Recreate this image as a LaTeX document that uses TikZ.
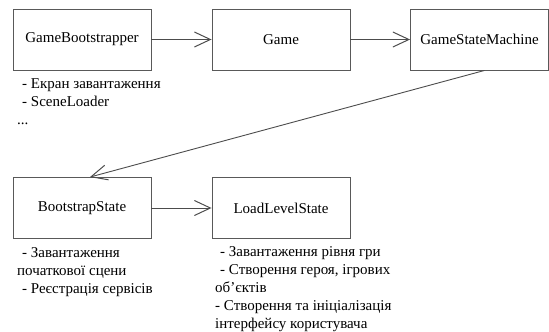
\documentclass[tikz,border=0pt]{standalone}
\usepackage{fontspec}
\setmainfont{LiberationSerif}[Extension=.ttf, UprightFont=*-Regular, BoldFont=*-Bold]
\usetikzlibrary{arrows.meta}

\begin{document}
\begin{tikzpicture}[
    x=1pt, y=-1pt,
    font=\fontsize{15}{18}\selectfont,
    box/.style={draw=black!65, line width=0.9pt, minimum width=138pt, minimum height=61pt},
    note/.style={align=left, inner sep=0pt, anchor=base west},
    arr/.style={draw=black!70, line width=0.9pt, -{Straight Barb[length=16pt, width=15pt, line width=1pt]}},
]
\useasboundingbox (0,0) rectangle (549,332);

% Top row
\node[box] (boot)  at (82, 39.5)    {GameBootstrapper};
\node[box] (game)  at (281, 39.5)   {Game};
\node[box] (gsm)   at (479.5, 39.5) {GameStateMachine};

% Bottom row
\node[box] (bstate) at (82, 208)  {BootstrapState};
\node[box] (lstate) at (281, 208) {LoadLevelState};

% Notes under the boxes (placed by the baseline of their last line)
\node[note] (bootnote) at (17, 124)
    {\hspace{5pt}- Екран завантаження\\ \hspace{5pt}- SceneLoader\\...};
\node[note] (bstatenote) at (17, 293)
    {\hspace{5pt}- Завантаження\\початкової сцени\\ \hspace{5pt}- Реєстрація сервісів};
\node[note] (lstatenote) at (215, 328)
    {\hspace{5pt}- Завантаження рівня гри\\ \hspace{5pt}- Створення героя, ігрових\\об’єктів\\- Створення та ініціалізація\\інтерфейсу користувача};

% Connectors
\draw[arr] (boot) -- (game);
\draw[arr] (game) -- (gsm);
\draw[arr] ([xshift=5pt]gsm.south) -- ([xshift=8pt]bstate.north);
\draw[arr] (bstate) -- (lstate);

\end{tikzpicture}
\end{document}
